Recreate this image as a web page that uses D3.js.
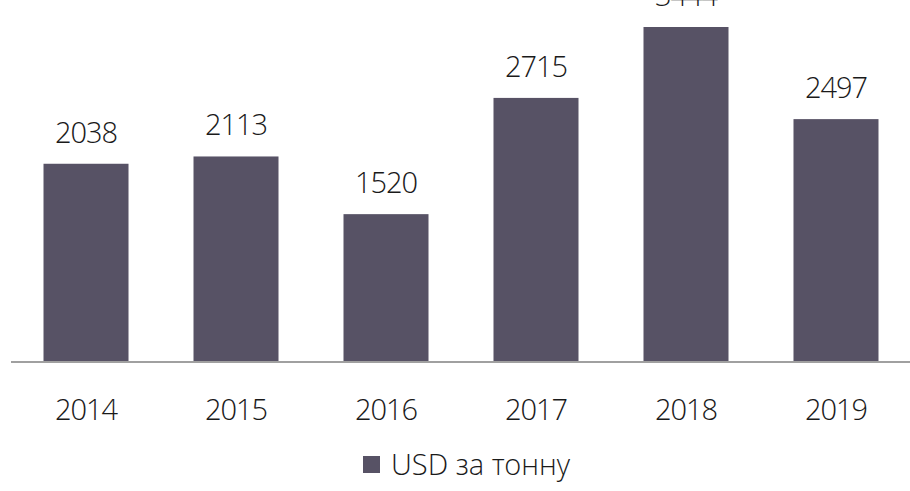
<!DOCTYPE html>
<html>
<head>
<meta charset="utf-8">
<script src="https://cdn.jsdelivr.net/npm/d3@7"></script>
<style>
  body { margin: 0; background: #fff; }
  text { font-family: "Open Sans Light", "Open Sans", "Noto Sans", sans-serif; font-weight: 300; fill: #1a1a1a; }
</style>
</head>
<body>
<div id="chart"></div>
<script>
// chart data
var years = ["2014", "2015", "2016", "2017", "2018", "2019"];
var prices = [2038, 2113, 1520, 2715, 3444, 2497];
var seriesName = "USD за тонну";

var svgWidth = 910;
var svgHeight = 491;
var barColor = "#575265";

var svg = d3.select("#chart")
  .append("svg")
  .attr("width", svgWidth)
  .attr("height", svgHeight);

var xScale = d3.scaleBand()
  .domain(years)
  .range([11, 911])
  .paddingInner(0.4333)
  .paddingOuter(0.2167);

var yScale = d3.scaleLinear()
  .domain([0, 3444])
  .range([362, 27]);

// bars
svg.selectAll("rect.bar")
  .data(prices)
  .enter()
  .append("rect")
  .attr("class", "bar")
  .attr("x", (d, i) => xScale(years[i]))
  .attr("y", d => yScale(d))
  .attr("width", xScale.bandwidth())
  .attr("height", d => yScale(0) - yScale(d))
  .attr("fill", barColor);

// value labels
svg.selectAll("text.value")
  .data(prices)
  .enter()
  .append("text")
  .attr("class", "value")
  .attr("x", (d, i) => xScale(years[i]) + xScale.bandwidth() / 2)
  .attr("y", d => yScale(d) - 21)
  .attr("text-anchor", "middle")
  .style("font-size", "29px")
  .style("letter-spacing", "-1px")
  .text(d => d);

// x axis
var xAxis = d3.axisBottom(xScale).tickSize(0).tickPadding(37);
var axisG = svg.append("g")
  .attr("transform", `translate(0, ${yScale(0)})`)
  .call(xAxis);
axisG.select(".domain").attr("stroke", "#a0a0a0").attr("stroke-width", 2)
  .attr("d", "M11,0H910");
axisG.selectAll("text")
  .style("font-size", "29px")
  .style("letter-spacing", "-1px")
  .attr("fill", "#1a1a1a");

// legend
var legend = svg.append("g").attr("transform", "translate(363, 456)");
legend.append("rect")
  .attr("width", 17)
  .attr("height", 17)
  .attr("fill", barColor);
legend.append("text")
  .attr("x", 28)
  .attr("y", 19)
  .style("font-size", "29px")
  .text(seriesName);
</script>
</body>
</html>
